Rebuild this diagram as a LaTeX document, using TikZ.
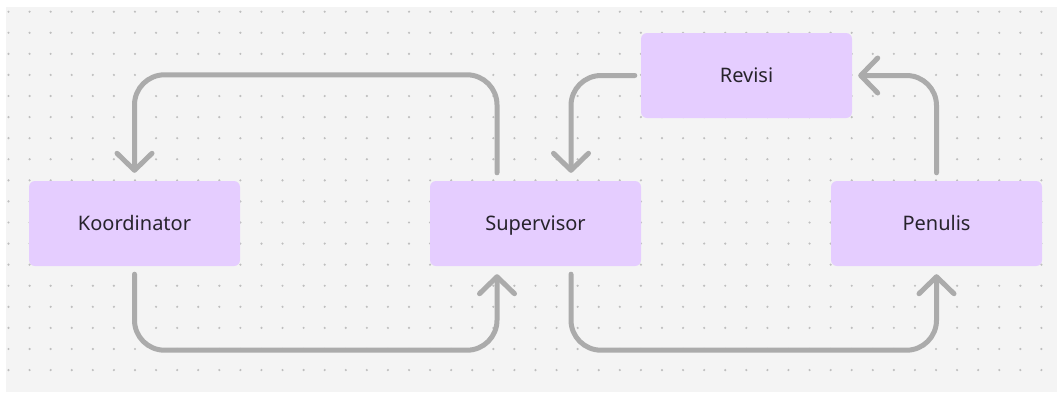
\documentclass[tikz,border=0pt]{standalone}
\usepackage{fontspec}
\setmainfont{Noto Sans}
\usetikzlibrary{arrows.meta}
\definecolor{bg}{HTML}{F4F4F4}
\definecolor{dotc}{HTML}{BEBEBE}
\definecolor{boxc}{HTML}{E5CDFF}
\definecolor{linec}{HTML}{ABABAB}
\definecolor{txtc}{HTML}{27232C}
\tikzset{
  box/.style={fill=boxc, rounded corners=6pt, minimum width=211pt, minimum height=85pt,
    inner sep=0pt, text height=14.3pt, text depth=0pt,
    font=\fontsize{20pt}{22pt}\selectfont, text=txtc},
  flow/.style={draw=linec, line width=5pt, rounded corners=30pt, line cap=round,
    -{Straight Barb[length=17pt,width=35pt,line cap=round,line join=round]}}
}
\begin{document}
\begin{tikzpicture}[x=1pt,y=-1pt]
\useasboundingbox (0,0) rectangle (1057,392);
\fill[white] (0,0) rectangle (1057,392);
\fill[bg] (6,7) rectangle (1057,392);
\foreach \i in {0,...,49}{
  \foreach \j in {0,...,17}{
    \fill[dotc] ({8.5+21.08*\i},{11.7+21.08*\j}) circle (1.2pt);
  }
}
\node[box] (koor) at (134.5,223.5) {Koordinator};
\node[box] (sup) at (535.5,223.5) {Supervisor};
\node[box] (rev) at (746.5,75.5) {Revisi};
\node[box] (pen) at (936.5,223.5) {Penulis};

\draw[flow] ([xshift=-38.5pt,yshift=8pt]sup.north) -- ++(0,-98) -| ([yshift=8pt]koor.north);
\draw[flow] ([yshift=-8pt]koor.south) -- ++(0,76) -| ([xshift=-38.5pt,yshift=-8pt]sup.south);
\draw[flow] ([xshift=35.5pt,yshift=-8pt]sup.south) -- ++(0,76) -| ([yshift=-8pt]pen.south);
\draw[flow] ([yshift=8pt]pen.north) |- ([xshift=6pt]rev.east);
\draw[flow] ([xshift=-6pt]rev.west) -| ([xshift=35.5pt,yshift=8pt]sup.north);
\end{tikzpicture}
\end{document}
